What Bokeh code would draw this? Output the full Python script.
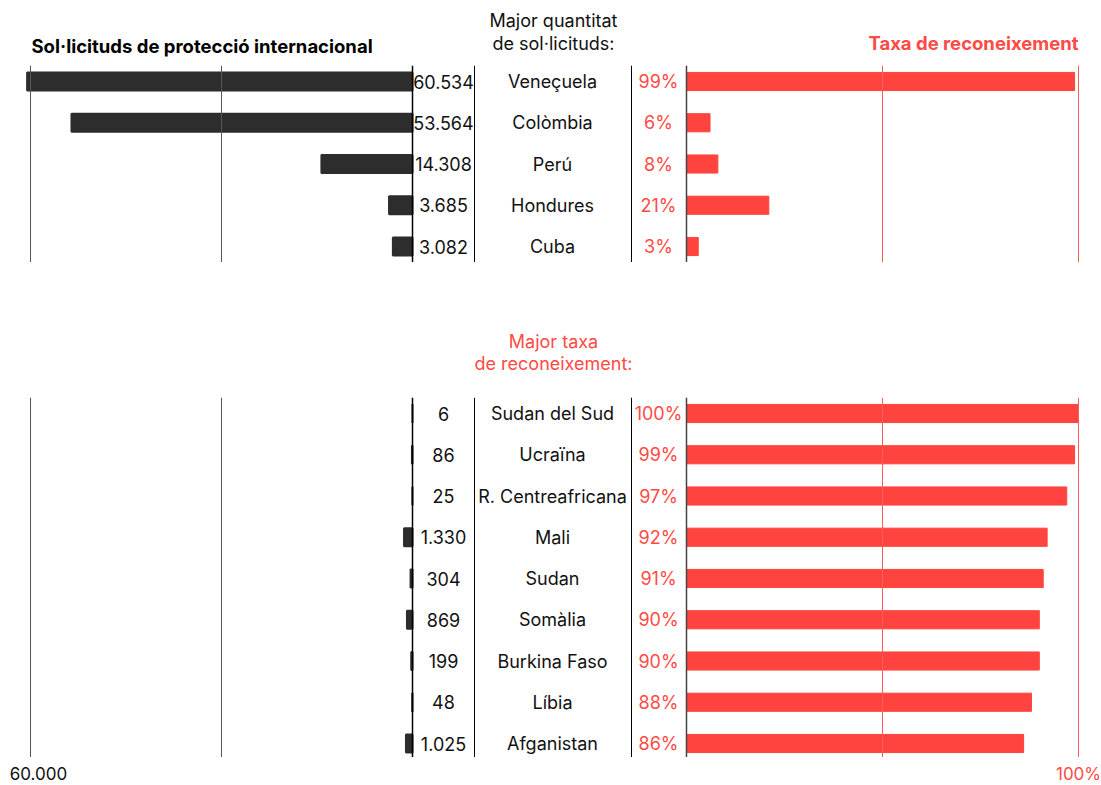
from bokeh.plotting import figure
from bokeh.models import Range1d, ColumnDataSource, Span
from bokeh.layouts import column
from bokeh.core.properties import value
from bokeh.embed import file_html
from bokeh.resources import INLINE

# ---------------- data ----------------
top_countries = ["Veneçuela", "Colòmbia", "Perú", "Hondures", "Cuba"]
top_requests = [60534, 53564, 14308, 3685, 3082]
top_rate = [99, 6, 8, 21, 3]

bottom_countries = ["Sudan del Sud", "Ucraïna", "R. Centreafricana", "Mali", "Sudan",
                    "Somàlia", "Burkina Faso", "Líbia", "Afganistan"]
bottom_requests = [6, 86, 25, 1330, 304, 869, 199, 48, 1025]
bottom_rate = [100, 99, 97, 92, 91, 90, 90, 88, 86]

count_grid = [30000, 60000]
count_zero = 0
pct_grid = [50, 100]
pct_zero = 0
count_tick_label = [60000]
pct_tick_label = [100]

title_left = "Sol·licituds de protecció internacional"
title_right = "Taxa de reconeixement"
head_top = ["Major quantitat", "de sol·licituds:"]
head_bottom = ["Major taxa", "de reconeixement:"]

# ---------------- style / layout ----------------
W = 1101
FONT = value("Inter")
FS = "18px"
TFS = "18.5px"
DARK = "#2d2d2d"
RED = "#ff443f"
RED_TXT = "#ff4a45"
TXT = "#111111"

# pixel anchors (canvas coordinates)
C_ZERO_PX, C_MAX_PX = 412, 30      # count 0 and 60000
P_ZERO_PX, P_MAX_PX = 686, 1078    # pct 0 and 100
k_c = 60000 / (C_ZERO_PX - C_MAX_PX)
k_p = 100 / (P_MAX_PX - P_ZERO_PX)

def count_range():
    return Range1d(start=C_ZERO_PX * k_c, end=(C_ZERO_PX - W) * k_c)

def pct_range():
    return Range1d(start=-P_ZERO_PX * k_p, end=(W - P_ZERO_PX) * k_p)

SEP1_PX, SEP2_PX = 474, 631
VAL_OFF = 443 - C_ZERO_PX
NAME_OFF = 552 - C_ZERO_PX
PCT_OFF = 658 - P_ZERO_PX

ROW = 41.25

def base_fig(h, yr):
    p = figure(width=W, height=h, x_range=count_range(), y_range=yr,
               output_backend="svg", toolbar_location=None,
               x_axis_location=None, y_axis_location=None,
               min_border=0, min_border_left=0, min_border_right=0,
               min_border_top=0, min_border_bottom=0)
    p.extra_x_ranges = {"pct": pct_range()}
    p.outline_line_color = None
    p.xgrid.visible = False
    p.ygrid.visible = False
    p.background_fill_color = "white"
    p.border_fill_color = "white"
    return p


def panel(countries, requests, rates, h, pad_top):
    n = len(countries)
    pad_bot = h / ROW - pad_top - (n - 1)
    p = base_fig(h, Range1d(start=n - 1 + pad_bot, end=-pad_top))
    src = ColumnDataSource(dict(
        y=list(range(n)),
        name=countries,
        req=requests,
        rate=rates,
        zero=[0] * n,
        req_lbl=[f"{v:,}".replace(",", ".") for v in requests],
        rate_lbl=[f"{v}%" for v in rates],
    ))
    # grid lines
    for g in count_grid:
        p.add_layout(Span(location=g, dimension="height", line_color="#555555", line_width=1))
    for g in pct_grid:
        p.add_layout(Span(location=g, dimension="height", line_color="#ff5c57", line_width=1,
                          x_range_name="pct"))
    # bars
    p.hbar(y="y", left="zero", right="req", height=0.44, source=src,
           fill_color=DARK, line_color=DARK, line_width=2)
    p.hbar(y="y", left="zero", right="rate", height=0.44, source=src,
           fill_color=RED, line_color=RED, line_width=1, x_range_name="pct")
    # axis-like lines
    p.add_layout(Span(location=count_zero, dimension="height", line_color="black", line_width=1.5))
    p.add_layout(Span(location=pct_zero, dimension="height", line_color="#444444", line_width=1.5,
                      x_range_name="pct"))
    p.add_layout(Span(location=(C_ZERO_PX - SEP1_PX) * k_c, dimension="height",
                      line_color="black", line_width=1))
    p.add_layout(Span(location=(C_ZERO_PX - SEP2_PX) * k_c, dimension="height",
                      line_color="black", line_width=1))
    # labels
    p.text(x="zero", y="y", text="req_lbl", source=src, x_offset=VAL_OFF,
           text_font=FONT, text_font_size=FS, text_color=TXT,
           text_align="center", text_baseline="middle")
    p.text(x="zero", y="y", text="name", source=src, x_offset=NAME_OFF,
           text_font=FONT, text_font_size=FS, text_color=TXT,
           text_align="center", text_baseline="middle")
    p.text(x="zero", y="y", text="rate_lbl", source=src, x_offset=PCT_OFF,
           text_font=FONT, text_font_size=FS, text_color=RED_TXT,
           text_align="center", text_baseline="middle", x_range_name="pct")
    return p


# header 1 (page y 0..65)
h1 = 65
hd1 = base_fig(h1, Range1d(start=h1, end=0))
hd1.text(x=count_tick_label, y=[45], text=[title_left], text_font=FONT,
         text_font_size=TFS, text_font_style="bold", text_color="black",
         text_align="left", text_baseline="middle", x_offset=1)
hd1.text(x=pct_tick_label, y=[42], text=[title_right], text_font=FONT,
         text_font_size=TFS, text_font_style="bold", text_color=RED_TXT,
         text_align="right", text_baseline="middle", x_range_name="pct")
hd1.text(x=[0, 0], y=[20, 43], text=head_top, x_offset=NAME_OFF + 1, text_font=FONT,
         text_font_size=FS, text_color=TXT, text_align="center", text_baseline="middle")

p1 = panel(top_countries, top_requests, top_rate, 197, 16 / ROW)

# header 2 (page y 262..397)
h2 = 135
hd2 = base_fig(h2, Range1d(start=h2, end=0))
hd2.text(x=[0, 0], y=[79, 101], text=head_bottom, x_offset=NAME_OFF + 1, text_font=FONT,
         text_font_size=FS, text_color=RED_TXT, text_align="center", text_baseline="middle")

p2 = panel(bottom_countries, bottom_requests, bottom_rate, 360, 16 / ROW)

# footer with end-of-scale labels (page y 757..785)
h3 = 28
ft = base_fig(h3, Range1d(start=h3, end=0))
ft.text(x=count_tick_label, y=[16], text=[f"{v:,}".replace(",", ".") for v in count_tick_label],
        text_font=FONT, text_font_size="17px", text_color=TXT,
        text_align="center", text_baseline="middle", x_offset=8)
ft.text(x=pct_tick_label, y=[16], text=[f"{v}%" for v in pct_tick_label],
        text_font=FONT, text_font_size="17px", text_color=RED_TXT,
        text_align="center", text_baseline="middle", x_range_name="pct", x_offset=0)

layout = column(hd1, p1, hd2, p2, ft, spacing=0)
open("out.html", "w").write(file_html(layout, INLINE))
